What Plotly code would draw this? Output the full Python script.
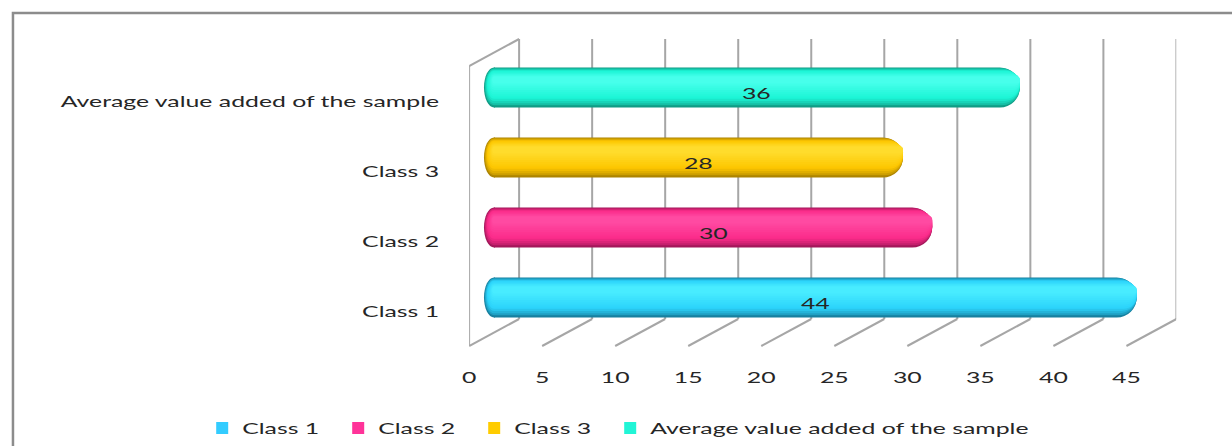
import plotly.graph_objects as go

# ---- data ----
categories = ["Class 1", "Class 2", "Class 3", "Average value added of the sample"]
values = [44, 30, 28, 36]
tick_values = [0, 5, 10, 15, 20, 25, 30, 35, 40, 45]

# cylinder shading: (edge / shadow, body, highlight) per series
shade_dark = ["#17809f", "#a3175a", "#ad8400", "#109c85"]
shade_main = ["#2bd3fb", "#fb2b8a", "#fdc600", "#1cf5d6"]
shade_light = ["#48ecff", "#ff4aa2", "#ffdc2c", "#47ffeb"]
legend_colors = ["#33ccff", "#ff3399", "#ffcc00", "#21f5d6"]

W, H = 1232, 446
FONT = "Lato"
FONT_SIZE = 16
TEXT_STRETCH = 1.55  # horizontal widening of the label glyphs
TEXT_COLOR = "#262626"
GRID_COLOR = "#a6a6a6"


def fx(p):
    return p / W


def fy(p):
    return 1 - p / H


# front plane (axis labels), depth shift to the back wall
X_MAX = 45
FRONT_L, FRONT_R = 466, 1126
FRONT_T, FRONT_B = 66, 346
DX, DY = 50, 27
MID_DX, MID_DY = DX / 2, DY / 2
PX_PER_UNIT = (FRONT_R - FRONT_L) / X_MAX
CAP_PX = 10  # depth of the rounded cylinder base

BAR_PX = 40  # cylinder thickness in pixels
ROW_PX = (FRONT_B - FRONT_T) / len(categories)


def hex_rgb(h):
    h = h.lstrip("#")
    return [int(h[i:i + 2], 16) for i in (0, 2, 4)]


def mix(a, b, t):
    ca, cb = hex_rgb(a), hex_rgb(b)
    return "rgb(%d,%d,%d)" % tuple(round(x + (y - x) * t) for x, y in zip(ca, cb))


fig = go.Figure()
shapes = []

# nested rounded bars give each cylinder its vertical shading
N_LAYERS = 12
K = 0.5523
for i, cat in enumerate(categories):
    for k in range(N_LAYERS):
        t = k / (N_LAYERS - 1)
        top_px = 9 * t
        bot_px = BAR_PX - 24 * t
        if t < 0.35:
            col = mix(shade_dark[i], shade_main[i], (t / 0.35) ** 0.7)
        else:
            col = mix(shade_main[i], shade_light[i], (t - 0.35) / 0.65)
        h_px = bot_px - top_px
        fig.add_trace(go.Bar(
            x=[values[i]], y=[cat], orientation="h",
            xaxis="x2", yaxis="y2",
            width=h_px / ROW_PX,
            offset=(BAR_PX / 2 - bot_px) / ROW_PX,
            marker=dict(color=col, line=dict(width=0), cornerradius=h_px / 2),
            showlegend=False, hoverinfo="skip",
        ))
        # rounded base of the cylinder, anchored at the bar's zero
        ry = h_px / 2
        rx = CAP_PX * h_px / BAR_PX
        cy = BAR_PX / 2 - (top_px + bot_px) / 2
        path = (
            f"M 1,{cy + ry} L 0,{cy + ry} "
            f"C {-K * rx},{cy + ry} {-rx},{cy + K * ry} {-rx},{cy} "
            f"C {-rx},{cy - K * ry} {-K * rx},{cy - ry} 0,{cy - ry} "
            f"L 1,{cy - ry} Z"
        )
        shapes.append(dict(type="path", xref="x2", yref="y2",
                           xsizemode="pixel", ysizemode="pixel",
                           xanchor=0, yanchor=i, path=path,
                           fillcolor=col, line=dict(width=0), layer="above"))

# legend entries
legend_widths = [91, 91, 91, 420]
for i, cat in enumerate(categories):
    fig.add_trace(go.Bar(
        x=[None], y=[None], orientation="h", xaxis="x2", yaxis="y2",
        name=cat, legendwidth=legend_widths[i],
        marker=dict(color=legend_colors[i], line=dict(width=0)),
    ))

# value labels in the middle of each cylinder
annotations = [
    dict(x=v / 2, y=cat, xref="x2", yref="y2", text=str(v), showarrow=False,
         yshift=-5, font=dict(family=FONT, size=FONT_SIZE, color=TEXT_COLOR))
    for v, cat in zip(values, categories)
]

# ---- 3-D frame: back wall grid, floor, left wall ----
line = dict(color=GRID_COLOR, width=2)
for v in tick_values:
    # back wall vertical grid line
    shapes.append(dict(type="line", xref="x", xsizemode="pixel", xanchor=v,
                       x0=DX, x1=DX, yref="paper",
                       y0=fy(FRONT_B - DY), y1=fy(FRONT_T - DY),
                       line=line, layer="below"))
    # floor depth line
    shapes.append(dict(type="line", xref="x", xsizemode="pixel", xanchor=v,
                       x0=0, x1=DX, yref="paper",
                       y0=fy(FRONT_B), y1=fy(FRONT_B - DY),
                       line=line, layer="below"))
# left wall front edge and top edge
shapes.append(dict(type="line", xref="x", xsizemode="pixel", xanchor=0,
                   x0=0, x1=0, yref="paper", y0=fy(FRONT_B), y1=fy(FRONT_T),
                   line=line, layer="below"))
shapes.append(dict(type="line", xref="x", xsizemode="pixel", xanchor=0,
                   x0=0, x1=DX, yref="paper", y0=fy(FRONT_T), y1=fy(FRONT_T - DY),
                   line=line, layer="below"))
# chart area border
shapes.append(dict(type="rect", xref="paper", yref="paper",
                   x0=fx(8), x1=1.02, y0=-0.02, y1=fy(13),
                   line=dict(color="#8c8c8c", width=2.5), layer="below"))

tick_font = dict(family=FONT, size=FONT_SIZE, color=TEXT_COLOR)

fig.update_layout(
    width=W, height=H,
    margin=dict(l=0, r=0, t=0, b=0),
    paper_bgcolor="white", plot_bgcolor="rgba(0,0,0,0)",
    barmode="overlay",
    shapes=shapes,
    annotations=annotations,
    showlegend=True,
    legend=dict(orientation="h", x=fx(198), xanchor="left",
                y=fy(428), yanchor="middle", font=tick_font,
                entrywidthmode="pixels", entrywidth=91,
                traceorder="normal", bgcolor="rgba(0,0,0,0)"),
    xaxis=dict(domain=[fx(FRONT_L), fx(FRONT_R + DX)],
               range=[0, X_MAX + DX / PX_PER_UNIT], anchor="y",
               tickvals=tick_values, ticktext=[str(v) for v in tick_values],
               showgrid=False, zeroline=False, showline=False, ticks="",
               tickfont=tick_font, ticklabelstandoff=20, fixedrange=True),
    yaxis=dict(domain=[fy(FRONT_B), fy(FRONT_T)], type="category",
               categoryarray=categories, categoryorder="array",
               range=[-0.5, len(categories) - 0.5], anchor="x",
               showgrid=False, zeroline=False, showline=False, ticks="",
               tickfont=tick_font, ticklabelstandoff=29, fixedrange=True),
    xaxis2=dict(domain=[fx(FRONT_L + MID_DX - CAP_PX - 2), fx(FRONT_R + MID_DX)],
                range=[-(CAP_PX + 2) / PX_PER_UNIT, X_MAX], anchor="y2",
                visible=False, fixedrange=True),
    yaxis2=dict(domain=[fy(FRONT_B - MID_DY), fy(FRONT_T - MID_DY)],
                type="category", categoryarray=categories, categoryorder="array",
                range=[-0.5, len(categories) - 0.5], anchor="x2",
                visible=False, fixedrange=True),
)

# widen the label glyphs horizontally (axis ticks, legend, value labels)
post = """
var gd = document.getElementById('{plot_id}');
function stretchText() {
  gd.querySelectorAll('.xtick text, .ytick text, .legendtext, .annotation-text')
    .forEach(function (t) {
      if (t.getAttribute('data-stretched')) { return; }
      var w = t.getComputedTextLength();
      t.setAttribute('textLength', (w * %s).toFixed(1));
      t.setAttribute('lengthAdjust', 'spacingAndGlyphs');
      t.setAttribute('data-stretched', '1');
    });
}
stretchText();
gd.on('plotly_afterplot', stretchText);
""" % TEXT_STRETCH

fig.write_html("out.html", post_script=post)
